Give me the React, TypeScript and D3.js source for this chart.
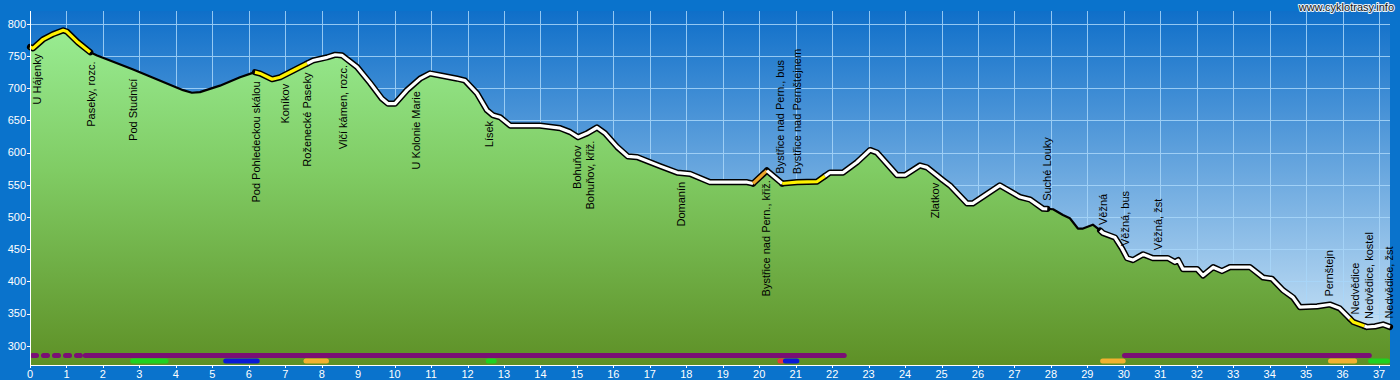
import React, { useEffect } from "react";
import * as d3 from "d3";

// ---- elevation profile (km, metres) ----
const profileKm = [
  0, 0.08, 0.36, 0.63, 0.91, 1.01, 1.32, 1.65, 1.84, 2.83, 4.2, 4.44, 4.66, 5.21, 5.76, 6.17, 6.31, 6.64, 6.86,
  7.41, 7.76, 8.15, 8.37, 8.56, 8.97, 9.33, 9.65, 9.82, 10.01, 10.34, 10.7, 10.97, 11.25, 11.71, 11.93, 12.26,
  12.53, 12.7, 12.89, 13.17, 13.99, 14.54, 14.81, 15.03, 15.28, 15.55, 15.77, 16.1, 16.4, 16.65, 17.28, 17.75,
  18.1, 18.65, 19.67, 19.83, 20.21, 20.63, 21.04, 21.59, 21.94, 22.3, 22.68, 23.04, 23.23, 23.78, 24.0, 24.41,
  24.6, 25.04, 25.23, 25.7, 25.86, 26.6, 27.15, 27.43, 27.78, 28.06, 28.33, 28.52, 28.74, 28.88, 29.15, 29.35,
  29.43, 29.76, 29.95, 30.09, 30.25, 30.53, 30.8, 31.21, 31.4, 31.49, 31.62, 32.01, 32.17, 32.45, 32.69, 32.91,
  33.46, 33.82, 34.06, 34.37, 34.64, 34.83, 35.3, 35.65, 35.92, 36.29, 36.67, 36.89, 37.11, 37.3,
];
const profileEle = [
  764, 762, 776, 784, 790, 788, 771, 756, 751, 729, 697, 693, 694, 704, 717, 725, 723, 714, 717,
  733, 743, 748, 752, 751, 733, 708, 684, 676, 676, 697, 715, 723, 720, 715, 712, 692,
  666, 658, 655, 642, 642, 638, 632, 624, 630, 639, 630, 609, 594, 593, 579, 569,
  567, 554, 554, 552, 572, 552, 554, 555, 569, 569, 585, 604, 600, 565, 565, 580,
  577, 557, 549, 521, 521, 549, 531, 527, 513, 512, 503, 498, 482, 482, 488, 479,
  475, 468, 451, 436, 433, 442, 436, 436, 430, 433, 419, 419, 409, 422, 416, 422,
  422, 406, 404, 386, 375, 360, 361, 364, 358, 337, 329, 330, 333, 329,
];

// ---- surface sections along the line ----
const surfaceStart = [0, 1.65, 6.17, 7.6, 19.83, 20.21, 20.63, 21.8, 27.9, 29.35, 36.2, 36.6];
const surfaceEnd = [1.65, 6.17, 7.6, 19.83, 20.21, 20.63, 21.8, 27.9, 29.35, 36.2, 36.6, 37.3];
const surfaceType = ["yellow", "black", "yellow", "white", "orange", "white", "yellow", "white", "black", "white", "yellow", "white"];

// ---- waypoint labels ----
const labelNames = [
  "U Hájenky", "Paseky, rozc.", "Pod Studnicí", "Pod Pohledeckou skálou", "Koníkov", "Roženecké Paseky",
  "Vlčí kámen, rozc.", "U Kolonie Marie", "Lísek", "Bohuňov", "Bohuňov, křiž.", "Domanín",
  "Bystřice nad Pern., křiž.", "Bystřice nad Pern., bus", "Bystřice nad Pernštejnem", "Zlatkov", "Suché Louky",
  "Věžná", "Věžná, bus", "Věžná, žst", "Pernštejn", "Nedvědice", "Nedvědice, kostel", "Nedvědice, žst",
];
const labelKm = [
  0.19, 1.67, 2.83, 6.2, 6.99, 7.6, 8.58, 10.59, 12.59, 15.0, 15.36, 17.85,
  20.19, 20.57, 21.04, 24.82, 27.89, 29.43, 30.03, 30.94, 35.63, 36.34, 36.72, 37.27,
];
const labelSide = [
  "below", "below", "below", "below", "below", "below", "below", "below", "below", "below", "below", "below",
  "below", "above", "above", "below", "above", "above", "above", "above", "above", "above", "above", "above",
];

// ---- route category bars at the bottom ----
const barRow = [1, 1, 1, 2, 2, 2, 2, 2, 2, 2, 2, 2];
const barStart = [0, 1.45, 29.95, 2.75, 5.3, 7.5, 12.5, 20.5, 20.65, 29.35, 35.6, 36.7];
const barEnd = [1.45, 22.4, 36.8, 3.8, 6.3, 8.2, 12.8, 20.7, 21.1, 30.05, 36.4, 37.3];
const barKind = ["purpleDash", "purple", "purple", "green", "blue", "orange", "green", "red", "blue", "orange", "orange", "green"];

// ---- ticks ----
const xTicks = d3.range(0, 38);
const yTicks = [300, 350, 400, 450, 500, 550, 600, 650, 700, 750, 800];

const FONT = "'Liberation Sans', Arial, Helvetica, sans-serif";

const lineColor: Record<string, string> = {
  yellow: "#fff200",
  white: "#ffffff",
  orange: "#eca62a",
  black: "#000000",
};
const barColor: Record<string, string> = {
  purpleDash: "#7a0f74",
  purple: "#7a0f74",
  green: "#1fd21f",
  blue: "#0a1ad6",
  orange: "#f2b230",
  red: "#e53a3a",
};

export default function App() {
  useEffect(() => {
    document.body.style.margin = "0";
  }, []);

  const W = 1400;
  const H = 380;
  const plotL = 30;
  const plotR = 1390;
  const plotT = 11;
  const plotB = 365;

  const x = d3.scaleLinear().domain([0, 37.3]).range([plotL, plotR]);
  const y = d3.scaleLinear().domain([270, 820]).range([plotB, plotT]);
  const eleAt = d3.scaleLinear().domain(profileKm).range(profileEle).clamp(true);

  const idx = profileKm.map((_, i) => i);
  const areaPath =
    d3
      .area<number>()
      .x((i) => x(profileKm[i]))
      .y0(plotB)
      .y1((i) => y(profileEle[i]))(idx) || "";

  const segPath = (a: number, b: number) => {
    const ks = [a, ...profileKm.filter((k) => k > a && k < b), b];
    return d3.line<number>().x((k) => x(k)).y((k) => y(eleAt(k)))(ks) || "";
  };

  const segs = surfaceStart.map((s, i) => ({ d: segPath(s, surfaceEnd[i]), type: surfaceType[i] }));

  return (
    <svg
      width={W}
      height={H}
      style={{ position: "absolute", left: 0, top: 0, display: "block" }}
      fontFamily={FONT}
    >
      <defs>
        <linearGradient id="skyGrad" gradientUnits="userSpaceOnUse" x1="0" y1={plotT} x2="0" y2={plotB}>
          <stop offset="0" stopColor="#0f6fc9" />
          <stop offset="1" stopColor="#d6ebf9" />
        </linearGradient>
        <linearGradient id="groundGrad" gradientUnits="userSpaceOnUse" x1="0" y1={plotT} x2="0" y2={plotB}>
          <stop offset="0" stopColor="#9cf098" />
          <stop offset="0.45" stopColor="#80cc64" />
          <stop offset="1" stopColor="#5e9026" />
        </linearGradient>
      </defs>

      {/* frame */}
      <rect x={0} y={0} width={W} height={H} fill="#0a73cc" />
      {/* plot background */}
      <rect x={plotL} y={plotT} width={plotR - plotL} height={plotB - plotT} fill="url(#skyGrad)" />

      {/* grid */}
      <g stroke="#a9d7fa" strokeWidth={1} opacity={0.85}>
        {yTicks.map((t) => (
          <line key={"gy" + t} x1={plotL} x2={plotR} y1={Math.round(y(t)) + 0.5} y2={Math.round(y(t)) + 0.5} />
        ))}
        {xTicks.slice(1).map((t) => (
          <line key={"gx" + t} x1={Math.round(x(t)) + 0.5} x2={Math.round(x(t)) + 0.5} y1={plotT} y2={plotB} />
        ))}
      </g>

      {/* ground area */}
      <path d={areaPath} fill="url(#groundGrad)" />

      {/* profile line: outlines */}
      <g fill="none" strokeLinejoin="round" strokeLinecap="round">
        {segs.map((s, i) =>
          s.type === "black" ? null : <path key={"o" + i} d={s.d} stroke="#000" strokeWidth={6.2} />
        )}
        {segs.map((s, i) =>
          s.type === "black" ? <path key={"b" + i} d={s.d} stroke="#000" strokeWidth={2.2} /> : null
        )}
        {segs.map((s, i) =>
          s.type === "black" ? null : (
            <path key={"c" + i} d={s.d} stroke={lineColor[s.type]} strokeWidth={3.2} strokeLinecap="butt" />
          )
        )}
      </g>

      {/* waypoint labels */}
      <g fontSize={11} fill="#000">
        {labelNames.map((name, i) => {
          const k = labelKm[i];
          const px = x(k);
          const ly = y(eleAt(k));
          const below = labelSide[i] === "below";
          const py = below ? ly + 9 : ly - 8;
          return (
            <text
              key={"l" + i}
              transform={`translate(${px},${py}) rotate(-90)`}
              textAnchor={below ? "end" : "start"}
              dy="0.35em"
            >
              {name}
            </text>
          );
        })}
      </g>

      {/* bottom category bars */}
      <g fill="none" strokeLinecap="round" strokeWidth={5}>
        {barStart.map((s, i) => {
          const yy = barRow[i] === 1 ? 355.5 : 361;
          const x1 = x(s) + 2.5;
          const x2 = Math.max(x1, x(barEnd[i]) - 2.5);
          return (
            <line
              key={"bar" + i}
              x1={x1}
              x2={x2}
              y1={yy}
              y2={yy}
              stroke={barColor[barKind[i]]}
              strokeDasharray={barKind[i] === "purpleDash" ? "4 7" : undefined}
            />
          );
        })}
      </g>

      {/* axes */}
      <g stroke="#fff" strokeWidth={1}>
        <line x1={plotL + 0.5} x2={plotL + 0.5} y1={plotT} y2={plotB} />
        <line x1={plotL} x2={plotR} y1={plotB + 0.5} y2={plotB + 0.5} />
        {yTicks.map((t) => (
          <line key={"ty" + t} x1={plotL - 3} x2={plotL} y1={Math.round(y(t)) + 0.5} y2={Math.round(y(t)) + 0.5} />
        ))}
        {xTicks.map((t) => (
          <line key={"tx" + t} x1={Math.round(x(t)) + 0.5} x2={Math.round(x(t)) + 0.5} y1={plotB} y2={plotB + 3} />
        ))}
      </g>
      <g fill="#fff" fontSize={11}>
        {yTicks.map((t) => (
          <text key={"ly" + t} x={plotL - 4} y={y(t)} dy="0.35em" textAnchor="end">
            {t}
          </text>
        ))}
        {xTicks.map((t) => (
          <text key={"lx" + t} x={x(t)} y={378} textAnchor="middle">
            {t}
          </text>
        ))}
      </g>

      {/* site credit */}
      <text
        x={1394}
        y={11}
        textAnchor="end"
        fontSize={11}
        fill="#111"
        stroke="#e8f2fb"
        strokeWidth={2}
        paintOrder="stroke"
        strokeLinejoin="round"
      >
        www.cyklotrasy.info
      </text>
    </svg>
  );
}
